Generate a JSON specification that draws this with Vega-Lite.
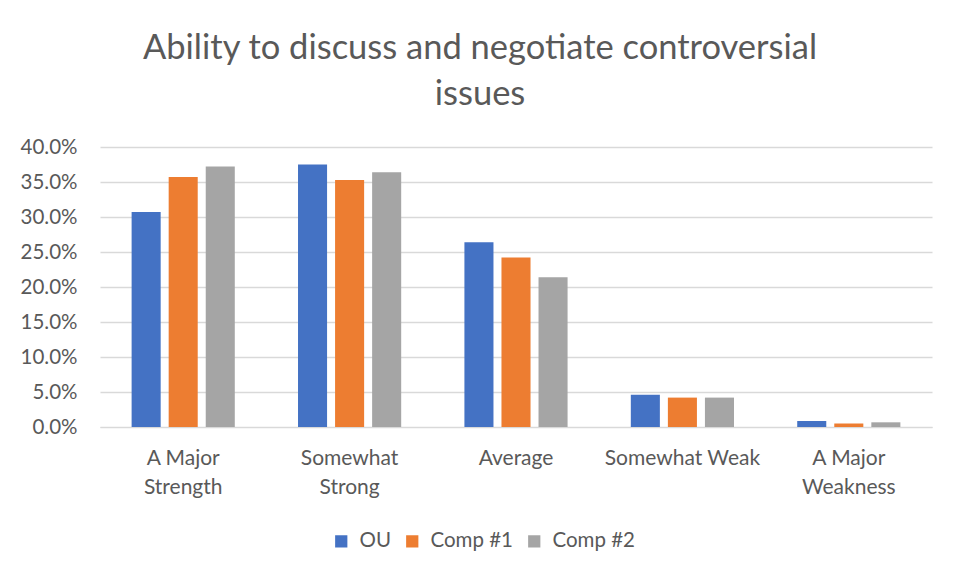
{
  "$schema": "https://vega.github.io/schema/vega-lite/v6.json",
  "autosize": "none",
  "width": 832,
  "height": 280,
  "padding": {"left": 100, "top": 147, "right": 29, "bottom": 148},
  "background": "white",
  "title": {
    "text": ["Ability to discuss and negotiate controversial", "issues"],
    "anchor": "middle",
    "frame": "group",
    "dx": -36,
    "offset": 25,
    "font": "Lato",
    "fontSize": 34.5,
    "fontWeight": "normal",
    "color": "#595959",
    "lineHeight": 46
  },
  "data": {
    "values": [
      {"category": "A Major Strength", "series": "OU", "value": 0.307},
      {"category": "A Major Strength", "series": "Comp #1", "value": 0.357},
      {"category": "A Major Strength", "series": "Comp #2", "value": 0.372},
      {"category": "Somewhat Strong", "series": "OU", "value": 0.375},
      {"category": "Somewhat Strong", "series": "Comp #1", "value": 0.353},
      {"category": "Somewhat Strong", "series": "Comp #2", "value": 0.364},
      {"category": "Average", "series": "OU", "value": 0.264},
      {"category": "Average", "series": "Comp #1", "value": 0.242},
      {"category": "Average", "series": "Comp #2", "value": 0.214},
      {"category": "Somewhat Weak", "series": "OU", "value": 0.046},
      {"category": "Somewhat Weak", "series": "Comp #1", "value": 0.042},
      {"category": "Somewhat Weak", "series": "Comp #2", "value": 0.042},
      {"category": "A Major Weakness", "series": "OU", "value": 0.0086},
      {"category": "A Major Weakness", "series": "Comp #1", "value": 0.005},
      {"category": "A Major Weakness", "series": "Comp #2", "value": 0.0067}
    ]
  },
  "mark": {"type": "bar"},
  "encoding": {
    "x": {
      "field": "category",
      "type": "nominal",
      "sort": ["A Major Strength", "Somewhat Strong", "Average", "Somewhat Weak", "A Major Weakness"],
      "scale": {"paddingInner": 0.38, "paddingOuter": 0.19},
      "axis": {
        "title": null,
        "labelAngle": 0,
        "ticks": false,
        "tickSize": 0,
        "domainColor": "#d9d9d9",
        "labelPadding": 20,
        "labelFont": "Lato",
        "labelFontSize": 21,
        "labelColor": "#595959",
        "labelLineHeight": 29,
        "labelExpr": "datum.label == 'A Major Strength' ? ['A Major', 'Strength'] : datum.label == 'Somewhat Strong' ? ['Somewhat', 'Strong'] : datum.label == 'A Major Weakness' ? ['A Major', 'Weakness'] : datum.label"
      }
    },
    "xOffset": {
      "field": "series",
      "type": "nominal",
      "sort": ["OU", "Comp #1", "Comp #2"],
      "scale": {"paddingInner": 0.216, "paddingOuter": 0}
    },
    "y": {
      "field": "value",
      "type": "quantitative",
      "scale": {"domain": [0, 0.4], "nice": false},
      "axis": {
        "title": null,
        "format": ".1%",
        "values": [0, 0.05, 0.1, 0.15, 0.2, 0.25, 0.3, 0.35, 0.4],
        "domain": false,
        "ticks": false,
        "tickSize": 0,
        "labelPadding": 23,
        "labelFont": "Lato",
        "labelFontSize": 20.5,
        "labelColor": "#595959",
        "gridColor": "#d9d9d9",
        "gridWidth": 1.3
      }
    },
    "color": {
      "field": "series",
      "type": "nominal",
      "sort": ["OU", "Comp #1", "Comp #2"],
      "scale": {"domain": ["OU", "Comp #1", "Comp #2"], "range": ["#4472C4", "#ED7D31", "#A5A5A5"]},
      "legend": {
        "title": null,
        "orient": "none",
        "direction": "horizontal",
        "legendX": 231,
        "legendY": 384,
        "symbolType": "square",
        "symbolSize": 150,
        "symbolStrokeWidth": 0,
        "labelFont": "Lato",
        "labelFontSize": 20.5,
        "labelColor": "#595959",
        "labelOffset": 8,
        "columnPadding": 11
      }
    }
  },
  "config": {
    "view": {"stroke": null}
  }
}
